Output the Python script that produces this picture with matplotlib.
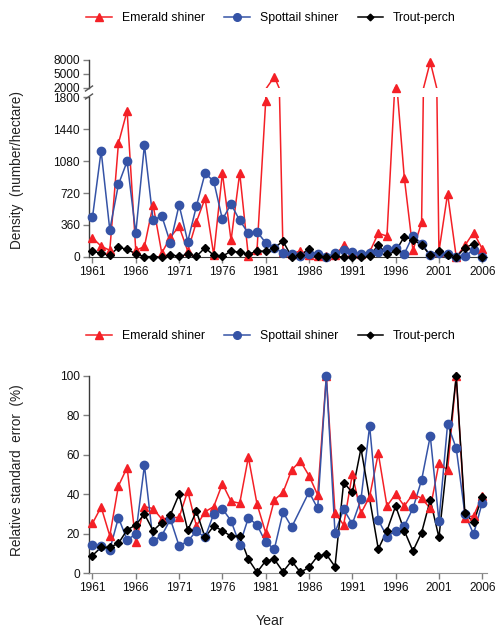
import numpy as np
import matplotlib
matplotlib.use("Agg")
import matplotlib.pyplot as plt
from matplotlib.lines import Line2D

plt.rcParams['font.family'] = ['Liberation Sans', 'DejaVu Sans']

years = list(range(1961, 2007))
series_names = ["Emerald shiner", "Spottail shiner", "Trout-perch"]

# Density (number/hectare)
emerald_density = [215, 122, 75, 1280, 1644, 74, 119, 586, 45, 223,
                   345, 67, 395, 660, 25, 946, 186, 946, 7, 82,
                   1755, 4400, 55, 37, 67, 19, 7, 7, 19, 130,
                   56, 37, 56, 267, 235, 2100, 894, 74, 390, 7600,
                   60, 712, 0, 130, 275, 93]
spottail_density = [445, 1195, 306, 816, 1076, 267, 1261, 412, 464, 156,
                    586, 174, 572, 942, 853, 423, 594, 412, 267, 285,
                    160, 104, 45, 30, 8, 37, 30, 0, 45, 74,
                    56, 30, 45, 56, 85, 104, 37, 241, 150, 19,
                    45, 30, 0, 7, 82, 0]
trout_density = [67, 41, 19, 111, 85, 37, 4, 4, 0, 26,
                 7, 30, 7, 104, 19, 7, 67, 52, 30, 67,
                 63, 104, 178, 0, 19, 93, 7, 0, 7, 0,
                 4, 4, 7, 137, 30, 63, 230, 193, 137, 19,
                 67, 19, 0, 104, 148, 0]

# Relative standard error (%)
nan = float('nan')
emerald_rse = [25.3, 33.6, 19, 44.3, 53.6, 16, 33.8, 32.8, 27.5, 28.3,
               28.3, 41.7, 24, 31.2, 33.8, 45.4, 36.5, 35.5, 58.9, 35.1,
               20.5, 37.2, 41, 52.4, 56.9, 49.5, 39.7, 100, 30.7, 24.5,
               50.2, 30.4, 38.9, 60.8, 34.1, 40.2, 34.1, 40.2, 38, 32.9,
               55.7, 52.4, 100, 28.2, 29.1, 39.2]
spottail_rse = [14.4, 13.9, 12, 28.2, 16.9, 19.9, 54.7, 16.4, 19.1, 27.4,
                13.9, 16.3, 21.4, 18.2, 30.1, 32.7, 26.6, 14.5, 28.1, 24.5,
                15.7, 12.3, 31, 23.4, nan, 41.2, 32.9, 100, 20.6, 32.4,
                25, 37.5, 74.7, 27, 18.6, 21.5, 24, 32.9, 47.3, 69.6,
                26.5, 75.7, 63.3, 29.9, 19.9, 35.8]
trout_rse = [9, 13.2, 13.2, 15.2, 22, 24.5, 30.1, 21.6, 25.7, 29.6,
             40, 21.8, 31.4, 18.2, 24, 21.6, 18.8, 18.8, 7.1, 0.5,
             6.3, 7.1, 0.8, 6.3, 0.5, 3, 8.8, 9.6, 3.4, 46,
             41, 63.3, nan, 12.3, 21.6, 34.1, 21.6, 11.3, 20.6, 37.2,
             18.2, nan, 100, 30.4, 25.8, 38.9]

density_ticks_low = [0, 360, 720, 1080, 1440, 1800]
density_ticks_high = [2000, 5000, 8000]
rse_ticks = [0, 20, 40, 60, 80, 100]
xtick_years = list(range(1961, 2007, 5))

colors = ['#f42026', '#3553a6', '#000000']
markers = ['^', 'o', 'D']
msizes = [6.0, 6.0, 3.9]

W, H = 495, 632
fig = plt.figure(figsize=(W / 100, H / 100), dpi=100)

def fx(px):
    return px / W

def fy(py):
    return 1 - py / H

left_px, right_px = 89, 487
ax_lo = fig.add_axes([fx(left_px), fy(257), (right_px - left_px) / W, (257 - 97) / H])
ax_hi = fig.add_axes([fx(left_px), fy(88), (right_px - left_px) / W, (88 - 60) / H])
ax_b = fig.add_axes([fx(left_px), fy(573.3), (right_px - left_px) / W, (573.3 - 376) / H])

xlim = (1960.6, 2006.55)
yrs = np.array(years, dtype=float)

def plot_series(ax, vals, i, ymin, ymax, clip_lines=True):
    v = np.array(vals, dtype=float)
    ok = ~np.isnan(v)
    ax.plot(yrs[ok], v[ok], color=colors[i], lw=1.1, zorder=2 + i, clip_on=clip_lines)
    inr = ok & (v >= ymin) & (v <= ymax)
    ax.plot(yrs[inr], v[inr], linestyle='none', marker=markers[i], ms=msizes[i],
            color=colors[i], mec=colors[i], zorder=5 + i, clip_on=False)

dens = [emerald_density, spottail_density, trout_density]
rses = [emerald_rse, spottail_rse, trout_rse]
for i in range(3):
    plot_series(ax_lo, dens[i], i, 0, 1800)
    plot_series(ax_hi, dens[i], i, 2000, 8000)
    plot_series(ax_b, rses[i], i, 0, 100, clip_lines=False)

spine_dark = '#3a3a3a'
for ax in (ax_lo, ax_hi, ax_b):
    ax.set_xlim(*xlim)
    ax.spines['top'].set_visible(False)
    ax.spines['right'].set_visible(False)
    ax.spines['left'].set_color(spine_dark)
    ax.spines['left'].set_linewidth(1.0)
    ax.tick_params(axis='both', labelsize=8.6, colors='#808080', labelcolor='#111111',
                   length=4, width=1.0, direction='out', pad=2.5)
    ax.patch.set_visible(False)

ax_lo.set_ylim(0, 1800)
ax_lo.set_yticks(density_ticks_low)
ax_lo.set_xticks(xtick_years)
ax_lo.spines['bottom'].set_color(spine_dark)

ax_hi.set_ylim(2000, 8000)
ax_hi.set_yticks(density_ticks_high)
ax_hi.set_xticks([])
ax_hi.spines['bottom'].set_visible(False)

ax_b.set_ylim(0, 100)
ax_b.set_yticks(rse_ticks)
ax_b.set_xticks(xtick_years)
ax_b.spines['bottom'].set_color('#909090')

# axis break marks
for yb in (88.5, 96.5):
    fig.add_artist(Line2D([fx(left_px - 3.5), fx(left_px + 3.5)], [fy(yb + 2.5), fy(yb - 2.5)],
                          color='#555555', lw=1.0))

# legends
handles = [Line2D([], [], color=colors[i], marker=markers[i], ms=msizes[i] - 0.5, lw=1.1)
           for i in range(3)]
for ly in (18, 336):
    fig.legend(handles, series_names, loc='center', bbox_to_anchor=(fx(271), fy(ly)),
               ncol=3, frameon=False, fontsize=8.8, handlelength=2.1, handletextpad=0.8,
               columnspacing=1.6, borderpad=0)

fig.text(fx(17), fy(170), "Density  (number/hectare)", rotation=90, ha='center', va='center',
         fontsize=9.8, color='#222222')
fig.text(fx(17), fy(470), "Relative standard  error  (%)", rotation=90, ha='center', va='center',
         fontsize=9.8, color='#222222')
fig.text(fx(270), fy(621), "Year", ha='center', va='center', fontsize=10.2, color='#222222')

fig.savefig("out.png", dpi=100)
